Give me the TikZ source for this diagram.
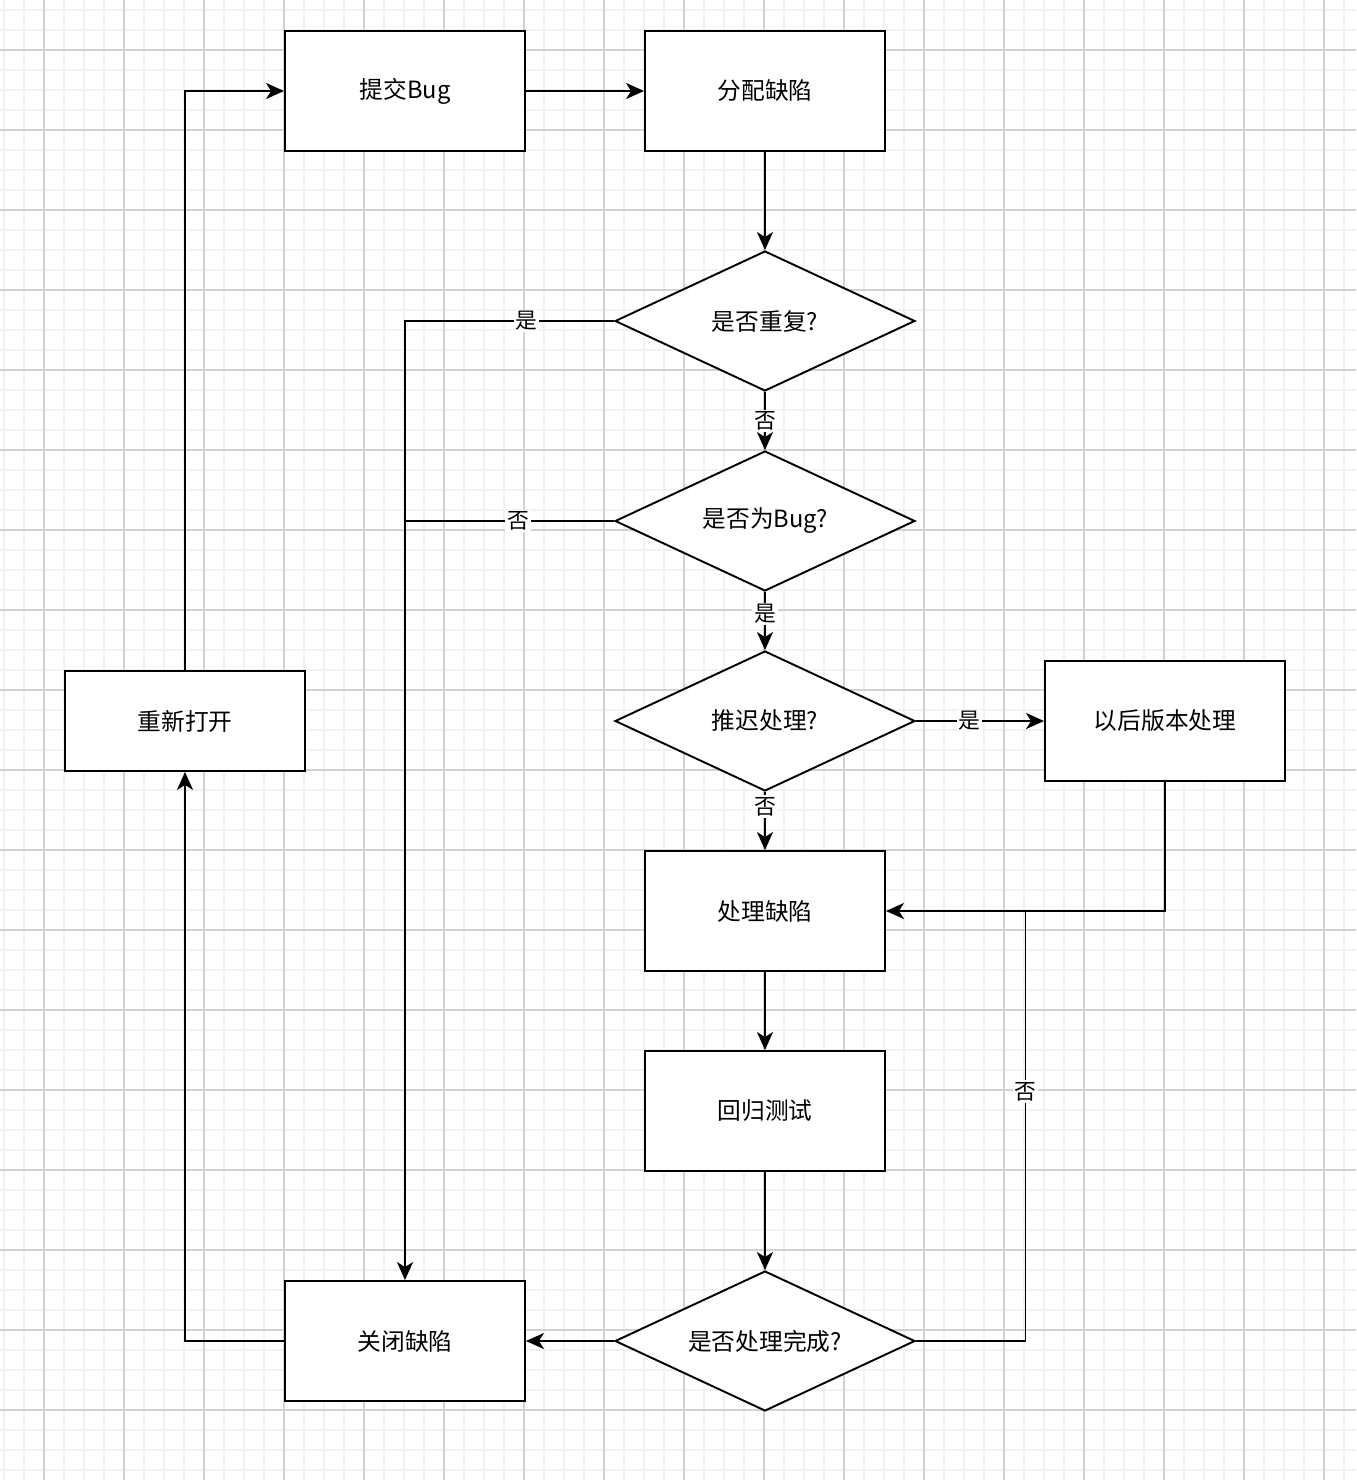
\documentclass[tikz,border=0pt]{standalone}
\usepackage{fontspec}
\setmainfont{Noto Sans CJK SC}
\usepackage{tikz}
\usepackage{xcolor}
\usetikzlibrary{arrows.meta,calc,shapes.geometric,positioning}
\definecolor{GridMinor}{HTML}{F1F1F1}
\definecolor{GridMajor}{HTML}{D2D2D2}

\begin{document}
\begin{tikzpicture}[
      x=0.02cm,y=-0.02cm,
      font=\fontsize{13.5}{16}\selectfont,
      >={Stealth[length=0.36cm,width=0.32cm,inset=0.1cm]},
      procbox/.style={draw=black,fill=white,line width=1.1pt,minimum width=4.8cm,minimum height=2.4cm,align=center,inner sep=0pt},
      decide/.style={diamond,draw=black,fill=white,line width=1.1pt,minimum width=6cm,minimum height=2.8cm,aspect=2.14,inner sep=0pt,align=center},
      arr/.style={->,line width=1.1pt,draw=black},
      link/.style={line width=1.1pt,draw=black},
      lbl/.style={fill=white,inner sep=1pt,font=\fontsize{12.4}{14}\selectfont}
    ]
      \useasboundingbox (0,0) rectangle (1356,1480);
      \fill[white] (0,0) rectangle (1356,1480);
      \foreach \gx in {4,24,...,1356} \draw[GridMinor,line width=1.1pt] (\gx,0) -- (\gx,1480);
      \foreach \gy in {10,30,...,1480} \draw[GridMinor,line width=1.1pt] (0,\gy) -- (1356,\gy);
      \foreach \gx in {44,124,...,1356} \draw[GridMajor,line width=0.6pt] (\gx,0) -- (\gx,1480);
      \foreach \gy in {50,130,...,1480} \draw[GridMajor,line width=0.6pt] (0,\gy) -- (1356,\gy);

      \node[procbox] (submit) at (405,91) {提交Bug};
      \node[procbox] (assign) at (765,91) {分配缺陷};
      \node[decide] (dup) at (765,321) {是否重复?};
      \node[decide] (isbug) at (765,521) {是否为Bug?};
      \node[decide] (defer) at (765,721) {推迟处理?};
      \node[procbox] (later) at (1165,721) {以后版本处理};
      \node[procbox] (fix) at (765,911) {处理缺陷};
      \node[procbox] (retest) at (765,1111) {回归测试};
      \node[decide] (done) at (765,1341) {是否处理完成?};
      \node[procbox] (close) at (405,1341) {关闭缺陷};
      \node[procbox,minimum height=2cm] (reopen) at (185,721) {重新打开};
      \coordinate (merge) at ($(fix.east)!0.5!(fix.east -| later.south)$);

      \draw[arr] (submit) -- (assign);
      \draw[arr] (assign) -- (dup);
      \draw[arr] (dup) -- node[lbl] {否} (isbug);
      \draw[arr] (dup.west) -| node[lbl,pos=0.21] {是} (close.north);
      \draw[link] (isbug.west) -- node[lbl,pos=0.46] {否} (isbug.west -| close.north);
      \draw[arr] (isbug) -- node[lbl,pos=0.38] {是} (defer);
      \draw[arr] (defer) -- node[lbl,pos=0.42] {是} (later);
      \draw[arr] (defer) -- node[lbl,pos=0.25] {否} (fix);
      \draw[arr] (later.south) |- (fix.east);
      \draw[arr] (fix) -- (retest);
      \draw[arr] (retest) -- (done);
      \draw[link] (done.east) -| node[lbl,pos=0.79] {否} (merge);
      \draw[arr] (done) -- (close);
      \draw[arr] (close.west) -| (reopen.south);
      \draw[arr] (reopen.north) |- (submit.west);
    \end{tikzpicture}
\end{document}
